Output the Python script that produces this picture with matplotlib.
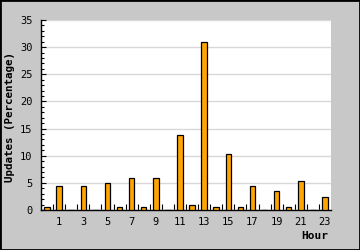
import matplotlib
matplotlib.use("Agg")
import matplotlib.pyplot as plt
from matplotlib.patches import Rectangle
from matplotlib.ticker import MultipleLocator

hours = list(range(24))
updates = [0.6, 4.4, 0, 4.4, 0, 4.9, 0.6, 5.9, 0.6, 5.9, 0, 13.8,
           0.9, 30.9, 0.6, 10.3, 0.6, 4.4, 0, 3.5, 0.6, 5.3, 0, 2.4]
tick_hours = [1, 3, 5, 7, 9, 11, 13, 15, 17, 19, 21, 23]

plt.rcParams["font.family"] = "DejaVu Sans Mono"

fig = plt.figure(figsize=(3.6, 2.5), dpi=100, facecolor="#c8c8c8")
ax = fig.add_axes([41/360, 40/250, 290/360, 190/250])
ax.set_facecolor("white")

ax.bar(hours, updates, width=0.45, color="#ffa500", edgecolor="black",
       linewidth=0.9, zorder=3)

ax.set_xlim(-0.5, 23.5)
ax.set_ylim(0, 35)
ax.yaxis.set_major_locator(MultipleLocator(5))
ax.yaxis.set_minor_locator(MultipleLocator(1))
ax.set_xticks(tick_hours)
ax.set_xticks([h + 0.5 for h in hours[:-1]], minor=True)
ax.grid(axis="y", color="#d8d8d8", linewidth=1, zorder=0)

ax.tick_params(axis="x", which="major", length=0, pad=5, labelsize=7.5)
ax.tick_params(axis="x", which="minor", direction="in", length=4, width=0.8)
ax.tick_params(axis="y", which="major", direction="in", length=3.5, width=0.8,
               pad=6, labelsize=7.5)
ax.tick_params(axis="y", which="minor", direction="in", length=2, width=0.8)

for s in ["top", "right"]:
    ax.spines[s].set_visible(False)
for s in ["left", "bottom"]:
    ax.spines[s].set_linewidth(1)

ax.set_ylabel("Updates (Percentage)", fontsize=7.8, fontweight="bold",
              va="center")
ax.yaxis.set_label_coords(-31/290, 0.49)
ax.set_xlabel("Hour", fontsize=8, fontweight="bold", ha="right", va="center")
ax.xaxis.set_label_coords(0.99, -26/190)

fig.patches.append(Rectangle((0, 0), 1, 1, transform=fig.transFigure,
                             fill=False, edgecolor="black", linewidth=2))

fig.savefig("out.png", dpi=100, facecolor=fig.get_facecolor())
